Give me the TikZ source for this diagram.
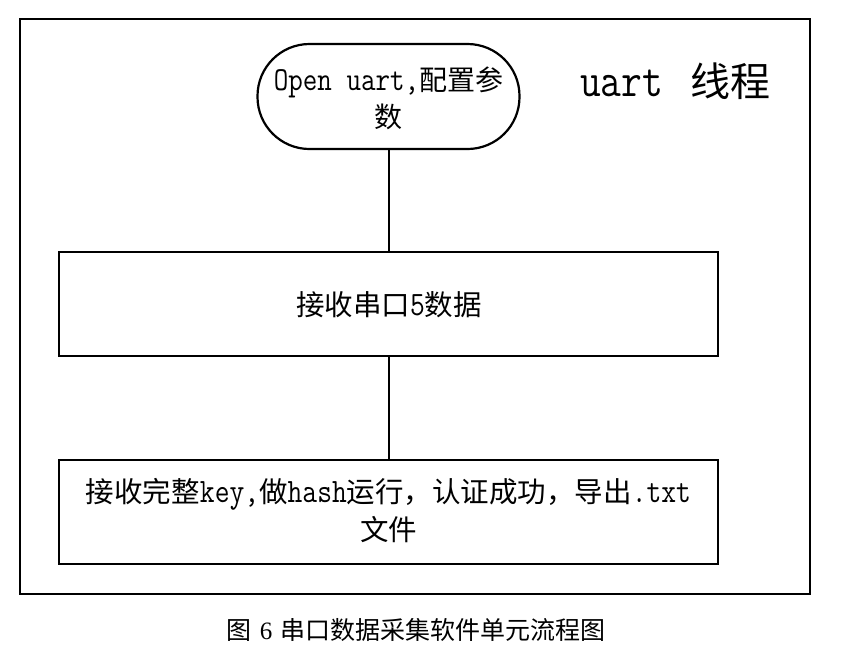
\documentclass[tikz,border=0pt]{standalone}
\usepackage{fontspec}
\setmonofont{Latin Modern Mono}[Scale=1.2, FakeStretch=0.84]
\newfontfamily\cjk{Noto Sans CJK SC}
\newfontfamily\capserif{Liberation Serif}
\begin{document}
\begin{tikzpicture}[x=1pt,y=-1pt,
  frame/.style={draw, line width=2.6pt},
  stepbox/.style={draw, line width=2.2pt, rectangle, minimum width=659pt, minimum height=104pt, align=center},
  terminal/.style={draw, line width=2.2pt, rectangle, rounded corners=52pt, minimum width=262pt, minimum height=105pt, align=center},
  link/.style={line width=2pt},
  label/.style={inner sep=0pt, align=center, font=\ttfamily}]
\useasboundingbox (0,0) rectangle (856,649);

% outer thread frame
\node[frame, minimum width=790pt, minimum height=575pt] (frame) at (415,306.5) {};

% flow steps
\node[terminal] (start) at (388.5,96.5) {};
\node[label, font=\ttfamily\fontsize{28}{37}\selectfont] (starttxt) at (388.5,98.5)
  {Open uart,{\cjk 配置参}\\{\cjk 数}};

\node[stepbox] (recv) at (388.5,304) {};
\node[label, font=\ttfamily\fontsize{28.5}{38}\selectfont] (recvtxt) at (389,305)
  {{\cjk 接收串口}5{\cjk 数据}};

\node[stepbox] (done) at (388.5,512) {};
\node[label, font=\ttfamily\fontsize{28.5}{38}\selectfont] (donetxt) at (388.5,511)
  {{\cjk 接收完整}key,{\cjk 做}hash{\cjk 运行，认证成功，导出}.txt\\{\cjk 文件}};

% connectors
\draw[link] (start.south) -- (recv.north);
\draw[link] (recv.south) -- (done.north);

% thread title
\node[label, font=\ttfamily\fontsize{40}{44}\selectfont] (title) at (675.5,81)
  {uart\hspace{7pt} {\cjk 线程}};

% caption
\node[label, font=\fontsize{25}{28}\selectfont] (caption) at (416,630)
  {{\cjk 图}\hspace{8pt}{\capserif 6}\hspace{8pt}{\cjk 串口数据采集软件单元流程图}};
\end{tikzpicture}
\end{document}
